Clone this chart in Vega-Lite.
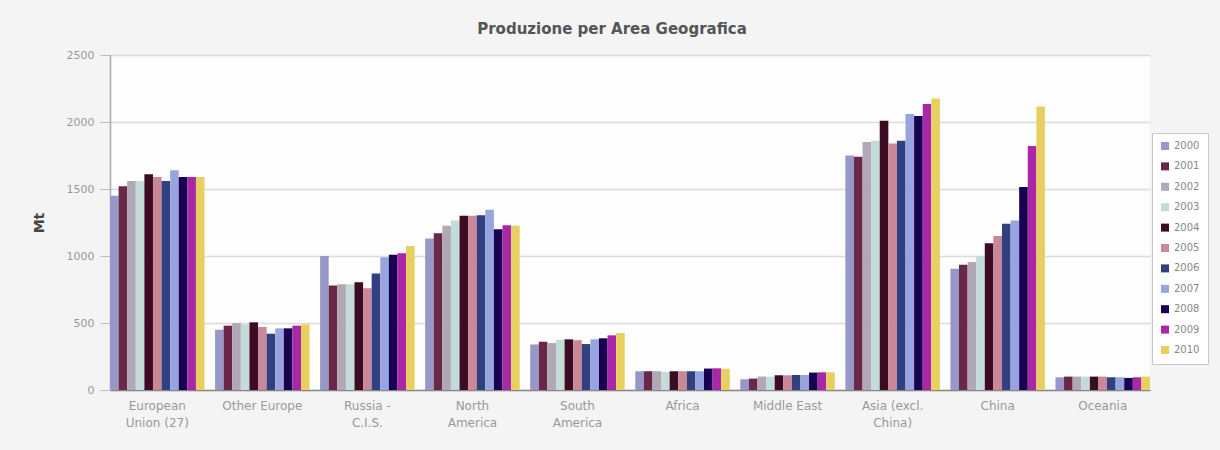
{
  "$schema": "https://vega.github.io/schema/vega-lite/v6.json",
  "width": 1040,
  "height": 335,
  "autosize": {"type": "none"},
  "padding": {"left": 110, "top": 55, "right": 70, "bottom": 60},
  "background": "#f4f4f4",
  "title": {"text": "Produzione per Area Geografica", "fontSize": 15, "fontWeight": "bold", "color": "#555555", "font": "DejaVu Sans", "offset": 12, "anchor": "middle", "dx": -18},
  "datasets": {
    "prod": [
      {"area": "European|Union (27)", "year": "2000", "value": 1450},
      {"area": "European|Union (27)", "year": "2001", "value": 1520},
      {"area": "European|Union (27)", "year": "2002", "value": 1560},
      {"area": "European|Union (27)", "year": "2003", "value": 1560},
      {"area": "European|Union (27)", "year": "2004", "value": 1610},
      {"area": "European|Union (27)", "year": "2005", "value": 1590},
      {"area": "European|Union (27)", "year": "2006", "value": 1560},
      {"area": "European|Union (27)", "year": "2007", "value": 1640},
      {"area": "European|Union (27)", "year": "2008", "value": 1590},
      {"area": "European|Union (27)", "year": "2009", "value": 1590},
      {"area": "European|Union (27)", "year": "2010", "value": 1590},
      {"area": "Other Europe", "year": "2000", "value": 450},
      {"area": "Other Europe", "year": "2001", "value": 480},
      {"area": "Other Europe", "year": "2002", "value": 500},
      {"area": "Other Europe", "year": "2003", "value": 490},
      {"area": "Other Europe", "year": "2004", "value": 505},
      {"area": "Other Europe", "year": "2005", "value": 470},
      {"area": "Other Europe", "year": "2006", "value": 420},
      {"area": "Other Europe", "year": "2007", "value": 460},
      {"area": "Other Europe", "year": "2008", "value": 460},
      {"area": "Other Europe", "year": "2009", "value": 480},
      {"area": "Other Europe", "year": "2010", "value": 490},
      {"area": "Russia -|C.I.S.", "year": "2000", "value": 1000},
      {"area": "Russia -|C.I.S.", "year": "2001", "value": 780},
      {"area": "Russia -|C.I.S.", "year": "2002", "value": 790},
      {"area": "Russia -|C.I.S.", "year": "2003", "value": 790},
      {"area": "Russia -|C.I.S.", "year": "2004", "value": 805},
      {"area": "Russia -|C.I.S.", "year": "2005", "value": 760},
      {"area": "Russia -|C.I.S.", "year": "2006", "value": 870},
      {"area": "Russia -|C.I.S.", "year": "2007", "value": 990},
      {"area": "Russia -|C.I.S.", "year": "2008", "value": 1010},
      {"area": "Russia -|C.I.S.", "year": "2009", "value": 1020},
      {"area": "Russia -|C.I.S.", "year": "2010", "value": 1075},
      {"area": "North|America", "year": "2000", "value": 1130},
      {"area": "North|America", "year": "2001", "value": 1170},
      {"area": "North|America", "year": "2002", "value": 1225},
      {"area": "North|America", "year": "2003", "value": 1265},
      {"area": "North|America", "year": "2004", "value": 1300},
      {"area": "North|America", "year": "2005", "value": 1300},
      {"area": "North|America", "year": "2006", "value": 1305},
      {"area": "North|America", "year": "2007", "value": 1345},
      {"area": "North|America", "year": "2008", "value": 1200},
      {"area": "North|America", "year": "2009", "value": 1230},
      {"area": "North|America", "year": "2010", "value": 1225},
      {"area": "South|America", "year": "2000", "value": 340},
      {"area": "South|America", "year": "2001", "value": 360},
      {"area": "South|America", "year": "2002", "value": 350},
      {"area": "South|America", "year": "2003", "value": 375},
      {"area": "South|America", "year": "2004", "value": 378},
      {"area": "South|America", "year": "2005", "value": 372},
      {"area": "South|America", "year": "2006", "value": 343},
      {"area": "South|America", "year": "2007", "value": 378},
      {"area": "South|America", "year": "2008", "value": 386},
      {"area": "South|America", "year": "2009", "value": 408},
      {"area": "South|America", "year": "2010", "value": 425},
      {"area": "Africa", "year": "2000", "value": 140},
      {"area": "Africa", "year": "2001", "value": 140},
      {"area": "Africa", "year": "2002", "value": 140},
      {"area": "Africa", "year": "2003", "value": 135},
      {"area": "Africa", "year": "2004", "value": 140},
      {"area": "Africa", "year": "2005", "value": 140},
      {"area": "Africa", "year": "2006", "value": 140},
      {"area": "Africa", "year": "2007", "value": 140},
      {"area": "Africa", "year": "2008", "value": 160},
      {"area": "Africa", "year": "2009", "value": 162},
      {"area": "Africa", "year": "2010", "value": 158},
      {"area": "Middle East", "year": "2000", "value": 80},
      {"area": "Middle East", "year": "2001", "value": 85},
      {"area": "Middle East", "year": "2002", "value": 100},
      {"area": "Middle East", "year": "2003", "value": 100},
      {"area": "Middle East", "year": "2004", "value": 110},
      {"area": "Middle East", "year": "2005", "value": 110},
      {"area": "Middle East", "year": "2006", "value": 112},
      {"area": "Middle East", "year": "2007", "value": 112},
      {"area": "Middle East", "year": "2008", "value": 130},
      {"area": "Middle East", "year": "2009", "value": 132},
      {"area": "Middle East", "year": "2010", "value": 132},
      {"area": "Asia (excl.|China)", "year": "2000", "value": 1750},
      {"area": "Asia (excl.|China)", "year": "2001", "value": 1740},
      {"area": "Asia (excl.|China)", "year": "2002", "value": 1850},
      {"area": "Asia (excl.|China)", "year": "2003", "value": 1860},
      {"area": "Asia (excl.|China)", "year": "2004", "value": 2010},
      {"area": "Asia (excl.|China)", "year": "2005", "value": 1840},
      {"area": "Asia (excl.|China)", "year": "2006", "value": 1860},
      {"area": "Asia (excl.|China)", "year": "2007", "value": 2060},
      {"area": "Asia (excl.|China)", "year": "2008", "value": 2045},
      {"area": "Asia (excl.|China)", "year": "2009", "value": 2135},
      {"area": "Asia (excl.|China)", "year": "2010", "value": 2175},
      {"area": "China", "year": "2000", "value": 905},
      {"area": "China", "year": "2001", "value": 935},
      {"area": "China", "year": "2002", "value": 955},
      {"area": "China", "year": "2003", "value": 1000},
      {"area": "China", "year": "2004", "value": 1095},
      {"area": "China", "year": "2005", "value": 1150},
      {"area": "China", "year": "2006", "value": 1240},
      {"area": "China", "year": "2007", "value": 1265},
      {"area": "China", "year": "2008", "value": 1515},
      {"area": "China", "year": "2009", "value": 1820},
      {"area": "China", "year": "2010", "value": 2115},
      {"area": "Oceania", "year": "2000", "value": 95},
      {"area": "Oceania", "year": "2001", "value": 100},
      {"area": "Oceania", "year": "2002", "value": 100},
      {"area": "Oceania", "year": "2003", "value": 100},
      {"area": "Oceania", "year": "2004", "value": 100},
      {"area": "Oceania", "year": "2005", "value": 100},
      {"area": "Oceania", "year": "2006", "value": 95},
      {"area": "Oceania", "year": "2007", "value": 95},
      {"area": "Oceania", "year": "2008", "value": 90},
      {"area": "Oceania", "year": "2009", "value": 95},
      {"area": "Oceania", "year": "2010", "value": 100}
    ]
  },
  "data": {"name": "prod"},
  "mark": {"type": "bar"},
  "encoding": {
    "x": {
      "field": "area",
      "type": "nominal",
      "sort": ["European|Union (27)", "Other Europe", "Russia -|C.I.S.", "North|America", "South|America", "Africa", "Middle East", "Asia (excl.|China)", "China", "Oceania"],
      "scale": {"paddingInner": 0.1, "paddingOuter": 0},
      "axis": {
        "title": null,
        "labelAngle": 0,
        "labelExpr": "split(datum.label, '|')",
        "labelColor": "#999999",
        "labelFontSize": 12,
        "labelFont": "DejaVu Sans",
        "labelLineHeight": 17,
        "labelPadding": 10,
        "ticks": false,
        "domainColor": "#888888",
        "domainWidth": 1.5
      }
    },
    "xOffset": {"field": "year", "type": "nominal"},
    "y": {
      "field": "value",
      "type": "quantitative",
      "scale": {"domain": [0, 2500]},
      "axis": {
        "title": "Mt",
        "titleFontSize": 14,
        "titleFontWeight": "bold",
        "titleColor": "#444444",
        "titleFont": "DejaVu Sans",
        "titlePadding": 20,
        "values": [0, 500, 1000, 1500, 2000, 2500],
        "format": "d",
        "grid": true,
        "gridColor": "#dcdcdc",
        "gridWidth": 1.5,
        "domainColor": "#aaaaaa",
        "domainWidth": 1.5,
        "tickColor": "#bbbbbb",
        "tickSize": 10,
        "labelColor": "#999999",
        "labelFontSize": 11,
        "labelFont": "DejaVu Sans",
        "labelPadding": 6
      }
    },
    "color": {
      "field": "year",
      "type": "nominal",
      "scale": {"range": ["#9898c8", "#6a2848", "#b0a8b4", "#c4dcd8", "#3c0c24", "#c88898", "#304080", "#98a4e0", "#1a0050", "#a828a8", "#e8d060"]},
      "legend": {
        "title": null,
        "orient": "none",
        "legendX": 1042,
        "legendY": 78,
        "fillColor": "#ffffff",
        "strokeColor": "#c8c8c8",
        "padding": 8,
        "symbolType": "square",
        "symbolSize": 64,
        "symbolStrokeWidth": 0,
        "labelFontSize": 10,
        "labelColor": "#888888",
        "labelFont": "DejaVu Sans",
        "rowPadding": 10.4
      }
    }
  },
  "config": {"view": {"fill": "#fdfdfd", "stroke": null}}
}
